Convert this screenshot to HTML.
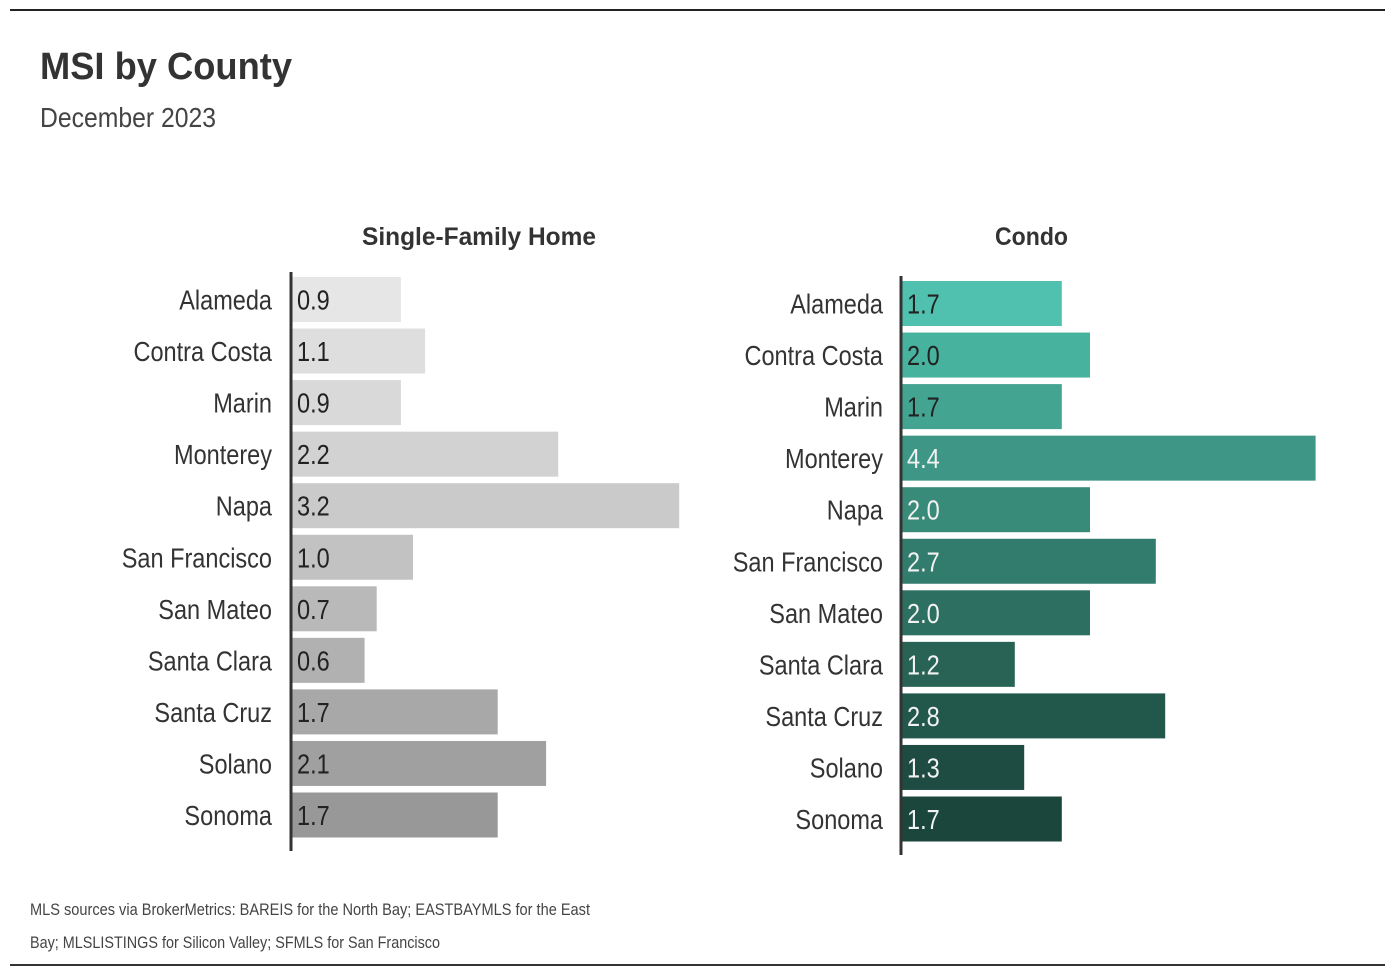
<!DOCTYPE html>
<html><head><meta charset="utf-8"><style>
html,body{margin:0;padding:0;background:#fff;}
svg{display:block;font-family:"Liberation Sans",sans-serif;}
</style></head><body>
<svg id="chart" width="1396" height="978" viewBox="0 0 1396 978">
<line x1="10" y1="10" x2="1385" y2="10" stroke="#222" stroke-width="2"/>
<line x1="10" y1="965" x2="1385" y2="965" stroke="#333" stroke-width="2"/>
<text x="40" y="79" font-size="38" font-weight="bold" fill="#333" textLength="252" lengthAdjust="spacingAndGlyphs">MSI by County</text>
<text x="40" y="127" font-size="28" fill="#444" textLength="176" lengthAdjust="spacingAndGlyphs">December 2023</text>
<text x="362" y="245" font-size="25" font-weight="bold" fill="#333" textLength="234" lengthAdjust="spacingAndGlyphs">Single-Family Home</text>
<text x="995" y="245" font-size="25" font-weight="bold" fill="#333" textLength="73" lengthAdjust="spacingAndGlyphs">Condo</text>
<text x="30" y="915" font-size="17" fill="#444" textLength="560" lengthAdjust="spacingAndGlyphs">MLS sources via BrokerMetrics: BAREIS for the North Bay; EASTBAYMLS for the East</text>
<text x="30" y="948" font-size="17" fill="#444" textLength="410" lengthAdjust="spacingAndGlyphs">Bay; MLSLISTINGS for Silicon Valley; SFMLS for San Francisco</text>
<g id="panels"></g>
</svg>
<script>
const counties = ["Alameda","Contra Costa","Marin","Monterey","Napa","San Francisco","San Mateo","Santa Clara","Santa Cruz","Solano","Sonoma"];
const sfhValues = [0.9,1.1,0.9,2.2,3.2,1.0,0.7,0.6,1.7,2.1,1.7];
const condoValues = [1.7,2.0,1.7,4.4,2.0,2.7,2.0,1.2,2.8,1.3,1.7];
const sfhColors = ["#e6e6e6","#dedede","#d9d9d9","#d2d2d2","#cacaca","#c2c2c2","#b9b9b9","#b1b1b1","#a8a8a8","#a0a0a0","#989898"];
const condoColors = ["#4fc1ae","#47b39f","#43a492","#3e9786","#388a79","#327c6d","#2d6f61","#286356","#22574b","#1e4c42","#1b463c"];
const condoTextDark = [true,true,true,false,false,false,false,false,false,false,false];

const NS="http://www.w3.org/2000/svg";
const g=document.getElementById('panels');
function mk(t,a){const e=document.createElementNS(NS,t);for(const k in a)e.setAttribute(k,a[k]);return e;}

function panel(key,values,colors,axisX,top,scale,labelX,darkFlags){
  const pitch=51.55, bh=45;
  const xs=v=>axisX+1+v*scale;
  const ys=i=>top+i*pitch;
  const axis=mk('line',{x1:axisX,y1:top-5,x2:axisX,y2:top+counties.length*pitch+7,stroke:'#333','stroke-width':3});
  
  
  g.appendChild(axis);
  counties.forEach((c,i)=>{
    const r=mk('rect',{x:axisX+1.5,y:ys(i),width:xs(values[i])-axisX-1.5,height:bh,fill:colors[i]});
    
    
    g.appendChild(r);
    const cy=ys(i)+bh/2+10;
    const lab=mk('text',{'text-anchor':'end','font-size':28,fill:'#333',transform:`translate(${labelX},${cy}) scale(0.84,1)`});
    lab.textContent=c;
    
    
    g.appendChild(lab);
    const dark=darkFlags?darkFlags[i]:true;
    const vl=mk('text',{'font-size':28,fill:dark?'#222':'#f2f2f2',transform:`translate(${axisX+6},${cy}) scale(0.84,1)`});
    vl.textContent=values[i].toFixed(1);
    
    
    g.appendChild(vl);
  });
}
panel('sfh',sfhValues,sfhColors,291,277,121,272,null);
panel('condo',condoValues,condoColors,901,281,94,883,condoTextDark);
</script>
</body></html>
